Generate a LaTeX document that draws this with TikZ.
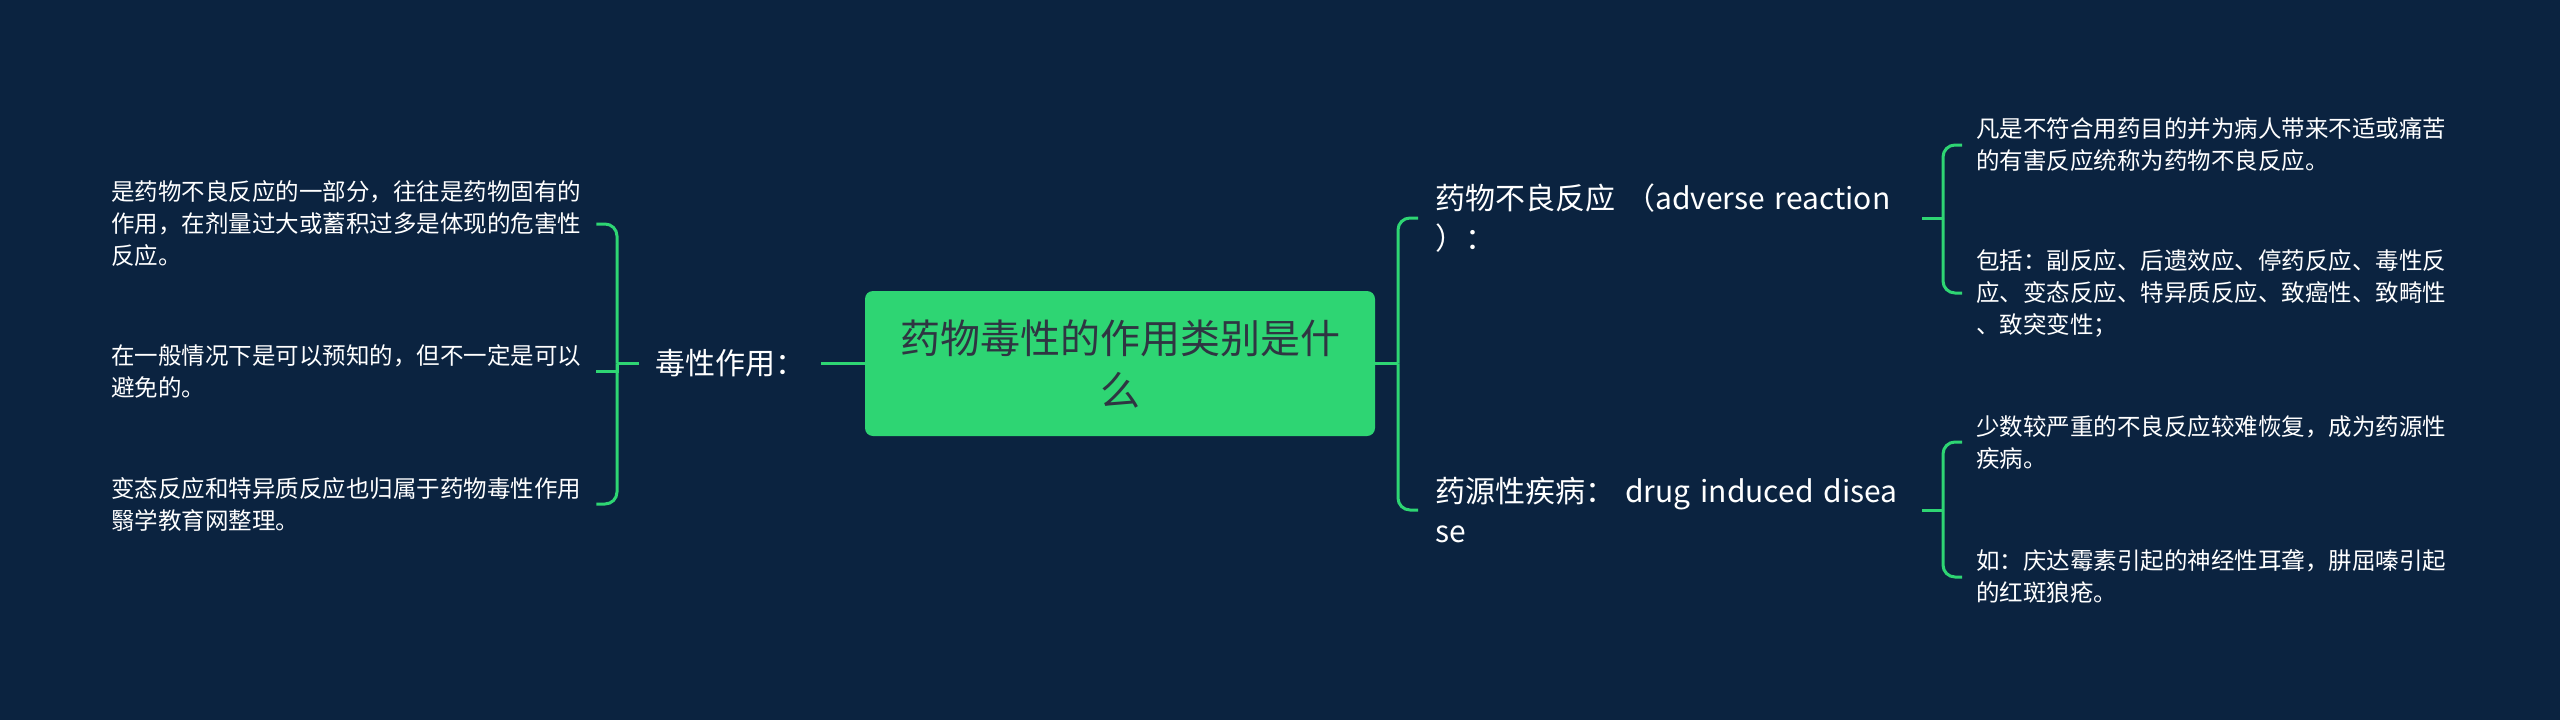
\documentclass[tikz,border=0pt]{standalone}
\usepackage{fontspec}
\setmainfont{Noto Sans CJK SC}
\definecolor{bg}{HTML}{0B2340}
\definecolor{gr}{HTML}{2ED573}
\definecolor{dk}{HTML}{2F3542}
\begin{document}
\begin{tikzpicture}[x=1pt,y=-1pt,
  conn/.style={draw=gr,line width=3pt},
  rc/.style={rounded corners=12pt},
  leaf/.style={anchor=west,inner sep=0pt,text=white,align=left,text width=472pt,font=\fontsize{23.5}{32}\selectfont},
  lbl/.style={anchor=west,inner sep=0pt,text=white,align=left,font=\fontsize{30}{40}\selectfont},
  rootbox/.style={fill=gr,rounded corners=8pt,minimum width=510pt,minimum height=145pt,text=dk,align=center,font=\fontsize{40}{52}\selectfont,inner sep=0pt}]
\fill[bg] (0,0) rectangle (2560,720);
\useasboundingbox (0,0) rectangle (2560,720);

\node[rootbox] (root) at (1120,363.5) {药物毒性的作用类别是什\\么};

% left
\node[lbl] (tox) at (655,363.5) {毒性作用：};
\coordinate (jl) at (617,363.5);
\node[leaf] (L1) at (111,224) {是药物不良反应的一部分，往往是药物固有的\\作用，在剂量过大或蓄积过多是体现的危害性\\反应。};
\node[leaf] (L2) at (111,371) {在一般情况下是可以预知的，但不一定是可以\\避免的。};
\node[leaf] (L3) at (111,504) {变态反应和特异质反应也归属于药物毒性作用\\翳学教育网整理。};

\draw[conn] (root.west) -- ([xshift=16pt]tox.east);
\draw[conn] ([xshift=-16pt]tox.west) -- (jl);
\draw[conn,rc] (jl) |- ([xshift=13pt]L1.east);
\draw[conn] (jl) |- ([xshift=13pt]L2.east);
\draw[conn,rc] (jl) |- ([xshift=13pt]L3.east);

% right
\coordinate (jr) at (1398,363.5);
\node[lbl,text width=470pt] (lab1) at (1435,218) {药物不良反应~（adverse~reaction\\）：};
\node[lbl,text width=470pt] (lab2) at (1435,510) {药源性疾病：~drug~induced~disea\\se};
\draw[conn] (root.east) -- (jr);
\draw[conn,rc] (jr) |- ([xshift=-17pt]lab1.west);
\draw[conn,rc] (jr) |- ([xshift=-17pt]lab2.west);

\coordinate (jr1) at (1943,218);
\coordinate (jr2) at (1943,510);
\node[leaf] (RA) at (1976,145) {凡是不符合用药目的并为病人带来不适或痛苦\\的有害反应统称为药物不良反应。};
\node[leaf] (RB) at (1976,293) {包括：副反应、后遗效应、停药反应、毒性反\\应、变态反应、特异质反应、致癌性、致畸性\\、致突变性；};
\node[leaf] (RC) at (1976,442) {少数较严重的不良反应较难恢复，成为药源性\\疾病。};
\node[leaf] (RD) at (1976,577) {如：庆达霉素引起的神经性耳聋，肼屈嗪引起\\的红斑狼疮。};

\draw[conn] ([xshift=17pt]lab1.east) -- (jr1);
\draw[conn,rc] (jr1) |- ([xshift=-14pt]RA.west);
\draw[conn,rc] (jr1) |- ([xshift=-14pt]RB.west);
\draw[conn] ([xshift=17pt]lab2.east) -- (jr2);
\draw[conn,rc] (jr2) |- ([xshift=-14pt]RC.west);
\draw[conn,rc] (jr2) |- ([xshift=-14pt]RD.west);
\end{tikzpicture}
\end{document}
